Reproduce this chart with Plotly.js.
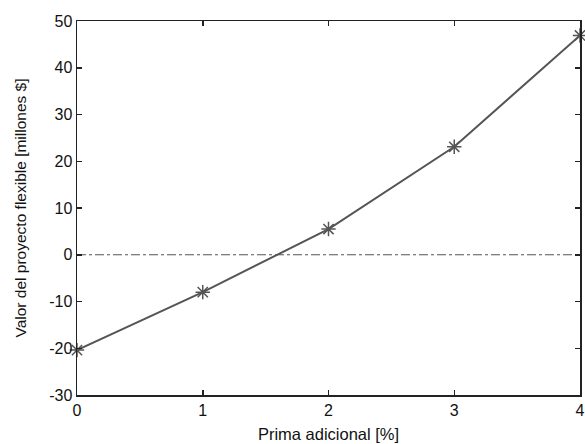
<!DOCTYPE html>
<html>
<head>
<meta charset="utf-8">
<script src="https://cdn.plot.ly/plotly-3.0.1.min.js"></script>
<style>html,body{margin:0;padding:0;background:#fff;}#chart{width:585px;height:444px;}</style>
</head>
<body>
<div id="chart"></div>
<script>
const prima = [0, 1, 2, 3, 4];
const valor = [-20.4, -8.0, 5.5, 23.1, 46.9];
const refX = [0, 4];
const refY = [0, 0];
const xTicks = [0, 1, 2, 3, 4];
const yTicks = [-30, -20, -10, 0, 10, 20, 30, 40, 50];

const tickFont = {family: 'Liberation Sans, Arial, sans-serif', size: 16, color: '#111'};
const xTitleFont = {family: 'Liberation Sans, Arial, sans-serif', size: 16.5, color: '#111'};
const yTitleFont = {family: 'Liberation Sans, Arial, sans-serif', size: 15.5, color: '#111'};

const traces = [
  {x: refX, y: refY, mode: 'lines', line: {color: '#555', width: 1, dash: 'dashdot'}, hoverinfo: 'skip'},
  {x: prima, y: valor, mode: 'lines+markers', line: {color: '#555', width: 2},
   marker: {symbol: 'asterisk-open', size: 12, color: '#555', line: {color: '#555', width: 1.5}}, cliponaxis: false}
];

const axisCommon = {showgrid: false, zeroline: false, showline: true, mirror: 'ticks', linecolor: '#222', linewidth: 1.5,
  ticks: 'inside', ticklen: 5, tickwidth: 1.5, tickcolor: '#222', tickfont: tickFont, ticklabeloverflow: 'allow'};

const layout = {
  width: 585, height: 444,
  margin: {l: 77, r: 5, t: 21, b: 49},
  paper_bgcolor: '#fff', plot_bgcolor: '#fff',
  showlegend: false,
  font: tickFont,
  xaxis: Object.assign({}, axisCommon, {range: [0, 4], tickvals: xTicks, ticktext: xTicks.map(String),
    title: {text: 'Prima adicional [%]', font: xTitleFont, standoff: 10}}),
  yaxis: Object.assign({}, axisCommon, {range: [-30, 50], tickvals: yTicks, ticktext: yTicks.map(String),
    title: {text: 'Valor del proyecto flexible [millones $]', font: yTitleFont, standoff: 18}})
};

Plotly.newPlot('chart', traces, layout, {displayModeBar: false, staticPlot: true});
</script>
</body>
</html>
